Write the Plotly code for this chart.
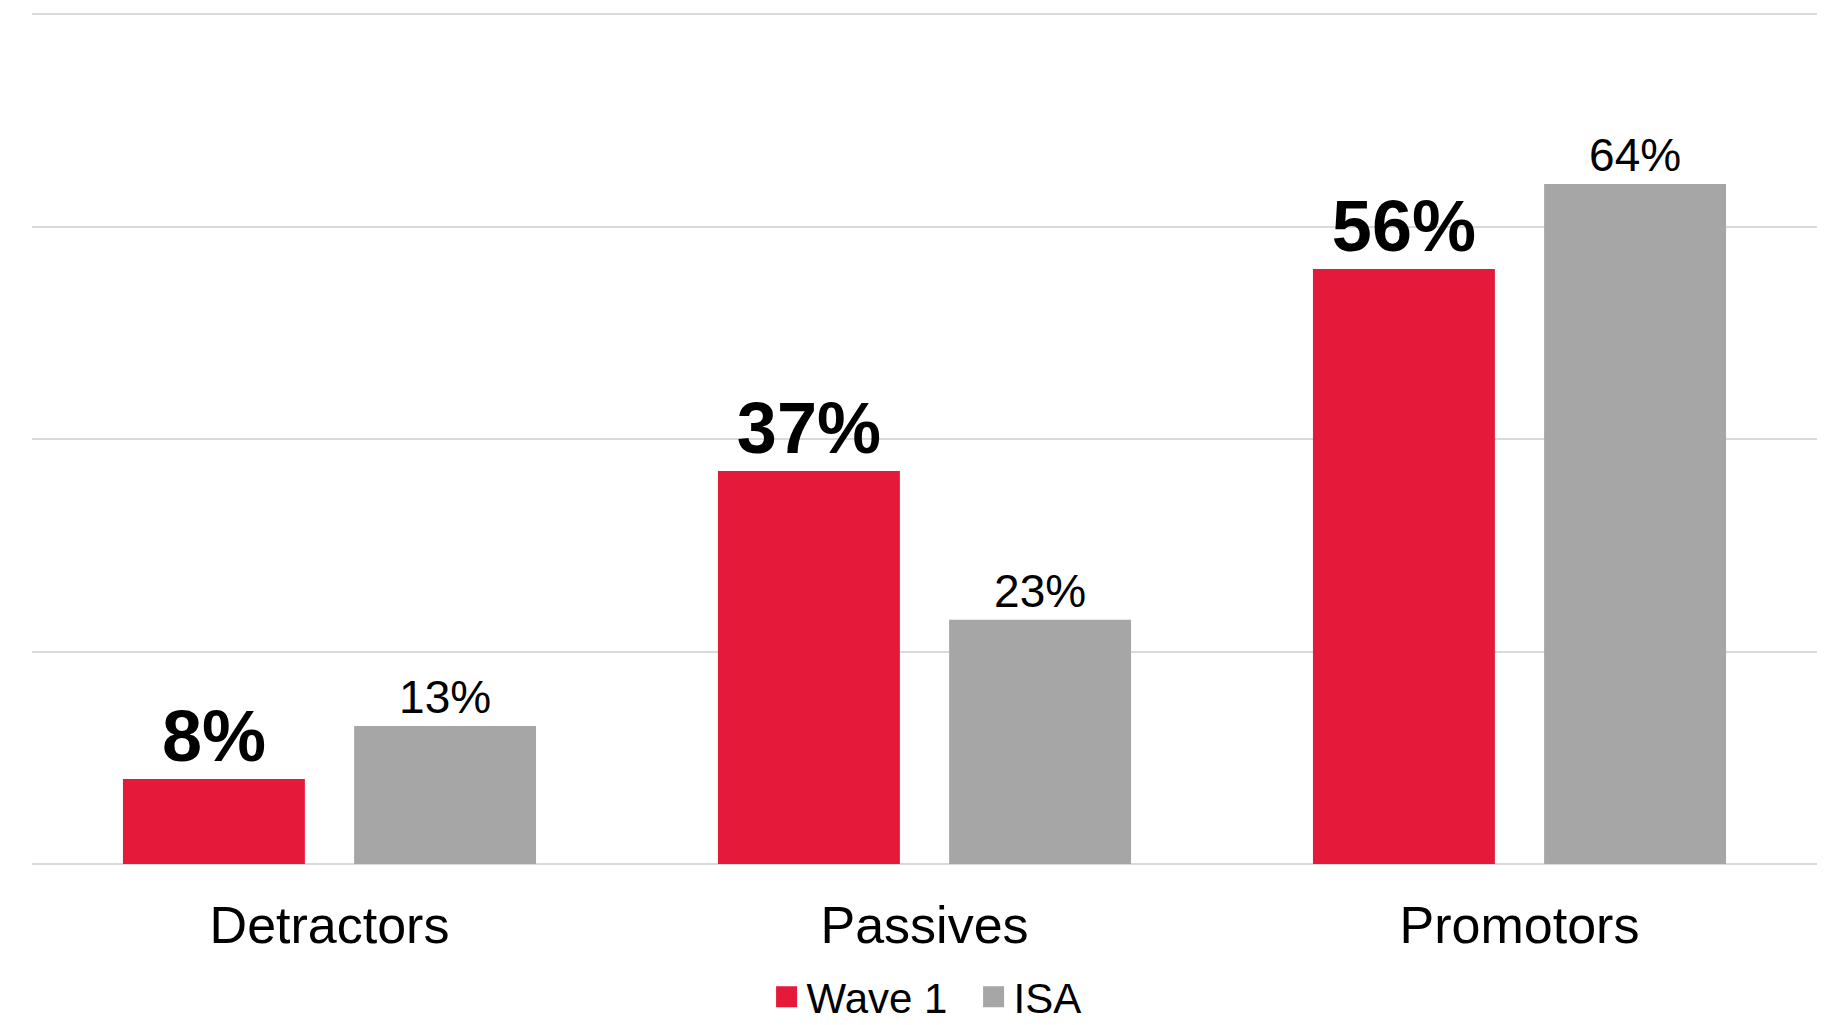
import plotly.graph_objects as go

categories = ["Detractors", "Passives", "Promotors"]
wave1 = [8, 37, 56]
isa = [13, 23, 64]
series_names = ["Wave 1", "ISA"]

RED = "#E5193A"
GRAY = "#A6A6A6"
FONT = "Liberation Sans, Arial, sans-serif"

fig = go.Figure()
fig.add_trace(go.Bar(
    x=categories, y=wave1, name=series_names[0], legendgroup="w1", showlegend=False,
    marker=dict(color=RED, line=dict(width=0)),
    texttemplate="<b>%{y}%</b>", textposition="outside",
    textfont=dict(family=FONT, size=72, color="black"),
    constraintext="none", cliponaxis=False,
))
fig.add_trace(go.Bar(
    x=categories, y=isa, name=series_names[1], legendgroup="isa", showlegend=False,
    marker=dict(color=GRAY, line=dict(width=0)),
    texttemplate="%{y}%", textposition="outside",
    textfont=dict(family=FONT, size=46, color="black"),
    constraintext="none", cliponaxis=False,
))
# legend entries with larger square swatches
for nm, col, grp in [(series_names[0], RED, "w1"), (series_names[1], GRAY, "isa")]:
    fig.add_trace(go.Scatter(
        x=[None], y=[None], mode="markers", name=nm, legendgroup=grp, showlegend=True,
        marker=dict(symbol="square", size=16, color=col, line=dict(color=col, width=5)),
        hoverinfo="skip",
    ))

top = 850 / 80  # px per unit
fig.update_layout(
    width=1841, height=1025,
    margin=dict(l=32, r=24, t=3, b=161, autoexpand=False),
    paper_bgcolor="white", plot_bgcolor="white",
    barmode="group", bargap=0.223, bargroupgap=0.213,
    font=dict(family=FONT, color="black"),
    showlegend=True,
    legend=dict(orientation="h", x=0.5275, xanchor="center", y=(-161 - 6) / 861, yanchor="bottom",
                font=dict(family=FONT, size=42, color="black"),
                itemwidth=30, traceorder="normal", tracegroupgap=0,
                entrywidth=162),
    xaxis=dict(type="category", showgrid=False, showline=False, zeroline=False,
               automargin=False,
               tickfont=dict(family=FONT, size=52, color="black"),
               ticks="outside", ticklen=16, tickcolor="rgba(0,0,0,0)"),
    yaxis=dict(range=[0, 861 / top], tickvals=[0, 20, 40, 60, 80], showticklabels=False,
               showgrid=True, automargin=False,
               gridcolor="#D9D9D9", gridwidth=2, zeroline=True,
               zerolinecolor="#D9D9D9", zerolinewidth=2, showline=False),
)

fig.write_html("out.html")
